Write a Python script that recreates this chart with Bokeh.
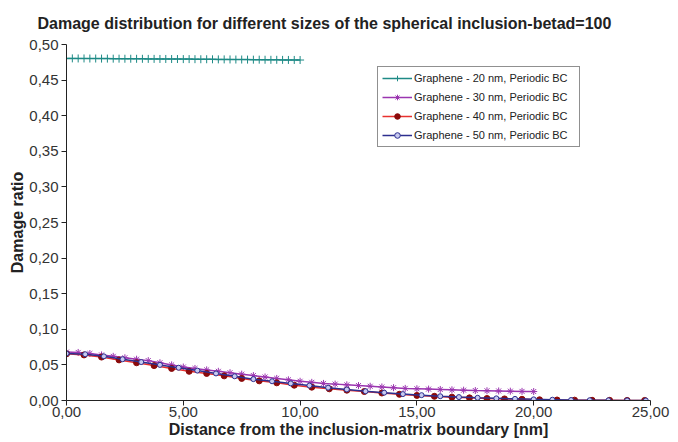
from bokeh.plotting import figure
from bokeh.models import ColumnDataSource, Legend, LegendItem, CustomJSTickFormatter, FixedTicker, Title, Range1d
from bokeh.embed import file_html
from bokeh.resources import INLINE

x20 = [0.0, 0.25, 0.5, 0.75, 1.0, 1.25, 1.5, 1.75, 2.0, 2.25, 2.5, 2.75, 3.0, 3.25, 3.5, 3.75,
       4.0, 4.25, 4.5, 4.75, 5.0, 5.25, 5.5, 5.75, 6.0, 6.25, 6.5, 6.75, 7.0, 7.25, 7.5, 7.75,
       8.0, 8.25, 8.5, 8.75, 9.0, 9.25, 9.5, 9.75, 10.0]
y20 = [0.4805, 0.4805, 0.4804, 0.4804, 0.4803, 0.4803, 0.4802, 0.4802, 0.4801, 0.4801, 0.4800,
       0.4800, 0.4799, 0.4799, 0.4798, 0.4798, 0.4797, 0.4797, 0.4796, 0.4796, 0.4795, 0.4795,
       0.4794, 0.4793, 0.4793, 0.4792, 0.4791, 0.4791, 0.4790, 0.4789, 0.4789, 0.4788, 0.4787,
       0.4787, 0.4786, 0.4785, 0.4785, 0.4784, 0.4783, 0.4783, 0.4782]

x30 = [0.0, 0.5, 1.0, 1.5, 2.0, 2.5, 3.0, 3.5, 4.0, 4.5, 5.0, 5.5, 6.0, 6.5, 7.0, 7.5, 8.0, 8.5,
       9.0, 9.5, 10.0, 10.5, 11.0, 11.5, 12.0, 12.5, 13.0, 13.5, 14.0, 14.5, 15.0, 15.5, 16.0,
       16.5, 17.0, 17.5, 18.0, 18.5, 19.0, 19.5, 20.0]
y30 = [0.068, 0.0675, 0.066, 0.064, 0.062, 0.060, 0.058, 0.056, 0.053, 0.050, 0.047, 0.045,
       0.043, 0.041, 0.039, 0.037, 0.035, 0.033, 0.031, 0.029, 0.027, 0.0255, 0.024, 0.023,
       0.022, 0.021, 0.020, 0.019, 0.018, 0.017, 0.0165, 0.016, 0.0155, 0.015, 0.0145, 0.014,
       0.0137, 0.0134, 0.0131, 0.0128, 0.0126]

x40 = [0.0, 0.75, 1.5, 2.25, 3.0, 3.75, 4.5, 5.25, 6.0, 6.75, 7.5, 8.25, 9.0, 9.75, 10.5, 11.25,
       12.0, 12.75, 13.5, 14.25, 15.0, 15.75, 16.5, 17.25, 18.0, 18.75, 19.5, 20.25, 21.0,
       21.75, 22.5, 23.25, 24.0, 24.75]
y40 = [0.0655, 0.064, 0.061, 0.057, 0.053, 0.049, 0.045, 0.041, 0.038, 0.0346, 0.031, 0.0276,
       0.0248, 0.0215, 0.0187, 0.0164, 0.0145, 0.0126, 0.0105, 0.0087, 0.0071, 0.0059, 0.0047,
       0.0037, 0.0028, 0.0022, 0.0017, 0.0010, 0.0007, 0.0005, 0.0003, 0.0002, 0.0001, 0.0001]

x50 = [0.0, 0.8, 1.6, 2.4, 3.2, 4.0, 4.8, 5.6, 6.4, 7.2, 8.0, 8.8, 9.6, 10.4, 11.2, 12.0, 12.8,
       13.6, 14.4, 15.2, 16.0, 16.8, 17.6, 18.4, 19.2, 20.0, 20.8, 21.6, 22.4, 23.2, 24.0, 24.8]
y50 = [0.066, 0.065, 0.062, 0.058, 0.054, 0.050, 0.046, 0.042, 0.038, 0.034, 0.030, 0.027,
       0.024, 0.021, 0.018, 0.0155, 0.013, 0.011, 0.009, 0.0075, 0.006, 0.0048, 0.0038, 0.003,
       0.0023, 0.0016, 0.0011, 0.0007, 0.0004, 0.0002, 0.0001, 0.0]

labels = ["Graphene - 20 nm, Periodic BC", "Graphene - 30 nm, Periodic BC",
          "Graphene - 40 nm, Periodic BC", "Graphene - 50 nm, Periodic BC"]
x_ticks = [0, 5, 10, 15, 20, 25]
y_ticks = [0.0, 0.05, 0.1, 0.15, 0.2, 0.25, 0.3, 0.35, 0.4, 0.45, 0.5]

FONT = "Liberation Sans"

p = figure(width=678, height=442, output_backend="svg", toolbar_location=None,
           x_range=Range1d(0, 25), y_range=Range1d(0, 0.5),
           min_border_left=66, min_border_right=28, min_border_top=44, min_border_bottom=42)
p.title = None
p.add_layout(Title(text="Damage distribution for different sizes of the spherical inclusion-betad=100",
                   text_font=FONT, text_font_size="16px", text_font_style="bold",
                   text_color="#222222", align="left", offset=-29, standoff=25), "above")
p.outline_line_color = None
p.xgrid.grid_line_color = None
p.ygrid.grid_line_color = None
p.background_fill_color = "white"
p.border_fill_color = "white"

fmt = CustomJSTickFormatter(code="return tick.toFixed(2).replace('.', ',');")
for ax, ticks in ((p.xaxis[0], x_ticks), (p.yaxis[0], y_ticks)):
    ax.ticker = FixedTicker(ticks=ticks)
    ax.formatter = fmt
    ax.minor_tick_line_color = None
    ax.major_tick_in = 0
    ax.major_tick_out = 5
    ax.axis_line_color = "#222222"
    ax.major_tick_line_color = "#222222"
    ax.major_label_text_font = FONT
    ax.major_label_text_font_size = "15px"
    ax.major_label_text_color = "#333333"
    ax.axis_label_text_font = FONT
    ax.axis_label_text_font_size = "16px"
    ax.axis_label_text_font_style = "bold"
    ax.axis_label_text_color = "#222222"
p.xaxis.axis_label = "Distance from the inclusion-matrix boundary [nm]"
p.yaxis.axis_label = "Damage ratio"
p.xaxis.major_label_standoff = 1
p.xaxis.axis_label_standoff = 1
p.yaxis.major_label_standoff = 3
p.yaxis.axis_label_standoff = 0

teal = "#1E8A86"
purple = "#9B35B0"
red = "#E8312F"
darkred = "#8B0A0A"
navy = "#2D2F8F"

s20 = ColumnDataSource(dict(x=x20, y=y20))
s30 = ColumnDataSource(dict(x=x30, y=y30))
s40 = ColumnDataSource(dict(x=x40, y=y40))
s50 = ColumnDataSource(dict(x=x50, y=y50))

l20 = p.line("x", "y", source=s20, line_color=teal, line_width=1.5)
m20 = p.scatter("x", "y", source=s20, marker="cross", size=8, line_color=teal, line_width=1)
l30 = p.line("x", "y", source=s30, line_color=purple, line_width=1.5)
m30 = p.scatter("x", "y", source=s30, marker="asterisk", size=7, line_color=purple, line_width=1)
l40 = p.line("x", "y", source=s40, line_color=red, line_width=1.5)
m40 = p.scatter("x", "y", source=s40, marker="circle", size=6, line_color=darkred,
                fill_color=darkred)
l50 = p.line("x", "y", source=s50, line_color=navy, line_width=1.5)
m50 = p.scatter("x", "y", source=s50, marker="circle", size=5, line_color=navy,
                fill_color="#C8CAF0", line_width=1)

legend = Legend(items=[LegendItem(label=labels[0], renderers=[l20, m20]),
                       LegendItem(label=labels[1], renderers=[l30, m30]),
                       LegendItem(label=labels[2], renderers=[l40, m40]),
                       LegendItem(label=labels[3], renderers=[l50, m50])],
                location=(311, 253), label_text_font=FONT, label_text_font_size="11px",
                label_text_color="#222222", glyph_width=30, glyph_height=14, label_height=14,
                label_width=161, spacing=5, padding=4, margin=0,
                border_line_color="#222222", border_line_width=1, label_standoff=2)
p.add_layout(legend, "center")

open("out.html", "w").write(file_html(p, INLINE))
